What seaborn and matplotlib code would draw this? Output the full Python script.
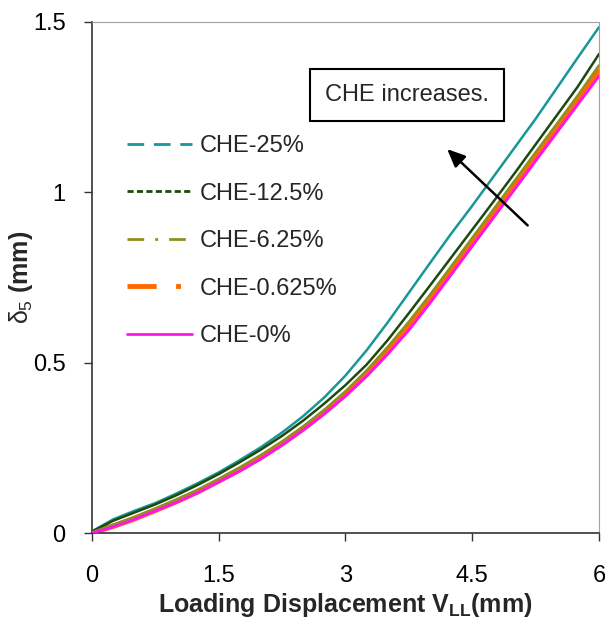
import matplotlib
matplotlib.use("Agg")
import matplotlib.pyplot as plt
from matplotlib.lines import Line2D
import seaborn as sns
import pandas as pd

# ---- data ----
x_vals = [0.0, 0.25, 0.5, 0.75, 1.0, 1.25, 1.5, 1.75, 2.0, 2.25, 2.5, 2.75, 3.0,
          3.25, 3.5, 3.75, 4.0, 4.25, 4.5, 4.75, 5.0, 5.25, 5.5, 5.75, 6.0]
che_25 = [0.005, 0.040, 0.065, 0.088, 0.116, 0.146, 0.178, 0.214, 0.252, 0.295, 0.343, 0.398, 0.462,
          0.536, 0.618, 0.705, 0.792, 0.878, 0.960, 1.045, 1.130, 1.215, 1.305, 1.395, 1.484]
che_125 = [0.004, 0.036, 0.060, 0.084, 0.111, 0.141, 0.173, 0.208, 0.245, 0.285, 0.330, 0.380, 0.434,
           0.494, 0.566, 0.645, 0.726, 0.808, 0.890, 0.972, 1.055, 1.140, 1.225, 1.310, 1.405]
che_625 = [0.002, 0.024, 0.047, 0.072, 0.099, 0.127, 0.159, 0.193, 0.229, 0.269, 0.313, 0.362, 0.416,
           0.477, 0.546, 0.620, 0.699, 0.782, 0.866, 0.949, 1.033, 1.117, 1.200, 1.284, 1.372]
che_0625 = [0.002, 0.020, 0.042, 0.067, 0.093, 0.121, 0.153, 0.186, 0.222, 0.262, 0.306, 0.354, 0.407,
            0.466, 0.532, 0.604, 0.682, 0.765, 0.849, 0.932, 1.015, 1.099, 1.182, 1.266, 1.355]
che_0 = [0.000, 0.018, 0.040, 0.065, 0.090, 0.118, 0.150, 0.182, 0.218, 0.258, 0.302, 0.350, 0.402,
         0.460, 0.525, 0.595, 0.675, 0.758, 0.842, 0.925, 1.008, 1.092, 1.175, 1.258, 1.340]

series_names = ["CHE-25%", "CHE-12.5%", "CHE-6.25%", "CHE-0.625%", "CHE-0%"]
series_vals = [che_25, che_125, che_625, che_0625, che_0]
x_ticks = [0, 1.5, 3, 4.5, 6]
x_tick_labels = ["0", "1.5", "3", "4.5", "6"]
y_ticks = [0, 0.5, 1, 1.5]
y_tick_labels = ["0", "0.5", "1", "1.5"]

# ---- styles ----
colors = {"CHE-25%": "#1A9696", "CHE-12.5%": "#1E4A0E", "CHE-6.25%": "#8F8F1E",
          "CHE-0.625%": "#FF6A00", "CHE-0%": "#FF14F0"}
widths = {"CHE-25%": 1.8, "CHE-12.5%": 1.8, "CHE-6.25%": 1.8, "CHE-0.625%": 4.0, "CHE-0%": 2.0}
legend_styles = {"CHE-25%": (0, (6, 3.5)), "CHE-12.5%": (0, (2.2, 1.2)),
                 "CHE-6.25%": (0, (6, 4, 1, 4)), "CHE-0.625%": (0, (6, 4, 1, 4, 1, 4)),
                 "CHE-0%": "-"}
zorders = {"CHE-25%": 3, "CHE-12.5%": 3, "CHE-6.25%": 3, "CHE-0.625%": 2, "CHE-0%": 4}

rows = []
for name, vals in zip(series_names, series_vals):
    for xv, yv in zip(x_vals, vals):
        rows.append({"x": xv, "y": yv, "series": name})
df = pd.DataFrame(rows)

sns.set_theme(style="white")
plt.rcParams["font.family"] = ["Liberation Sans", "DejaVu Sans"]
plt.rcParams["mathtext.fontset"] = "custom"
plt.rcParams["mathtext.rm"] = "Liberation Sans"
plt.rcParams["mathtext.it"] = "Liberation Sans"
plt.rcParams["mathtext.bf"] = "Liberation Sans:bold"

fig = plt.figure(figsize=(6.05, 6.22), dpi=100)
ax = fig.add_axes([0.152, 0.143, 0.838, 0.822])

for name in series_names:
    sub = df[df["series"] == name]
    sns.lineplot(data=sub, x="x", y="y", ax=ax, color=colors[name],
                 linewidth=widths[name], zorder=zorders[name], legend=False)

ax.set_xlim(0, 6)
ax.set_ylim(0, 1.5)
ax.set_xticks(x_ticks)
ax.set_xticklabels(x_tick_labels)
ax.set_yticks(y_ticks)
ax.set_yticklabels(y_tick_labels)
ax.tick_params(axis="both", direction="out", length=6, width=1, color="#333333",
               labelsize=17, labelcolor="black", left=True, bottom=True)
ax.tick_params(axis="x", pad=17)
ax.tick_params(axis="y", pad=13)

for side in ["left", "bottom"]:
    ax.spines[side].set_color("#333333")
    ax.spines[side].set_linewidth(1.2)
for side in ["top", "right"]:
    ax.spines[side].set_color("#A0A0A0")
    ax.spines[side].set_linewidth(0.8)

ax.set_xlabel(r"Loading Displacement V$_{\mathbf{LL}}$(mm)", fontsize=18,
              fontweight="bold", labelpad=3)
ax.set_ylabel(r"$\delta_5$ (mm)", fontsize=18, fontweight="bold", labelpad=0)
ax.yaxis.set_label_coords(-0.112, 0.5)

handles = [Line2D([0], [0], color=colors[n], lw=(3.5 if n == "CHE-0.625%" else 2.0),
                  linestyle=legend_styles[n]) for n in series_names]
leg = ax.legend(handles, series_names, loc="upper left", bbox_to_anchor=(0.028, 0.82),
                frameon=False, fontsize=17, handlelength=2.75, handletextpad=0.3,
                labelspacing=1.08)

ax.text(3.73, 1.285, "CHE increases.", fontsize=17, ha="center", va="center",
        bbox=dict(boxstyle="square,pad=0.65", facecolor="white", edgecolor="black",
                  linewidth=1.5), zorder=6)
ax.annotate("", xy=(4.18, 1.132), xytext=(5.18, 0.897),
            arrowprops=dict(arrowstyle="-|>,head_length=0.9,head_width=0.4",
                            color="black", lw=1.8), zorder=7)

fig.savefig("out.png", dpi=100)
